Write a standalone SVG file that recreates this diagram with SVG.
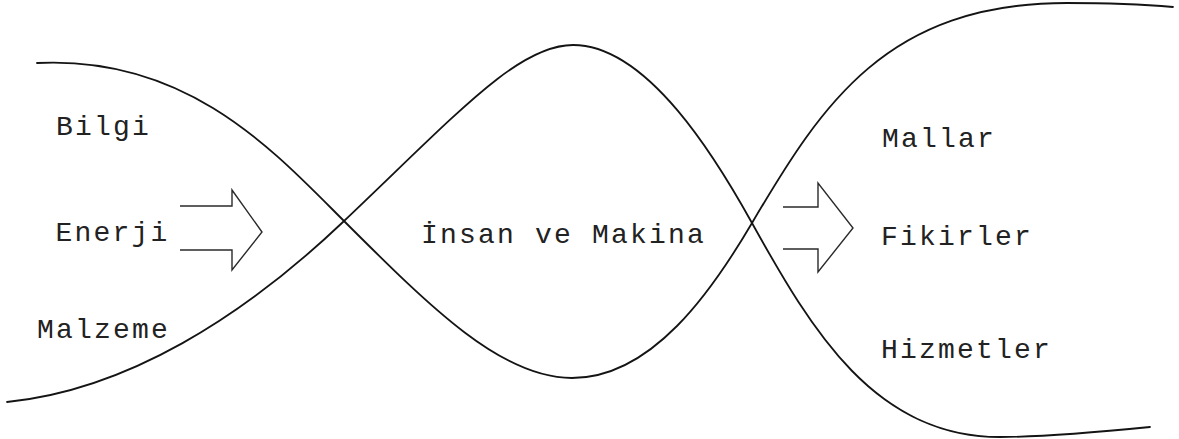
<svg xmlns="http://www.w3.org/2000/svg" width="1179" height="439" viewBox="0 0 1179 439">
<style>
.bg{fill:#ffffff}
.curve{fill:none;stroke:#141414;stroke-width:1.8;stroke-linecap:round;stroke-linejoin:round}
.arrow{fill:none;stroke:#2a2a2a;stroke-width:1.4;stroke-linejoin:miter}
.lbl{font-family:"Liberation Mono","Courier New",monospace;font-size:28px;letter-spacing:2.2px;fill:#222222}
</style>
<rect class="bg" x="0" y="0" width="1179" height="439"/>
<g id="curves">
<path id="curveA" class="curve" d="M37,63 C187,55.5 273,150 343,220 C433,310 502,378 572,378 C652,378 712,291 752,223 C822,104 887,3 1067,3 C1117,3 1150,5 1173,7"/>
<path id="curveB" class="curve" d="M7,402 C127,390 243,317 343,222 C458,113 518,45 573,45 C648,45 717,160 752,223 C812,331 875,437 1000,437 C1050,437 1110,431 1150,427"/>
</g>
<g id="connectors">
<path id="arrow-in" class="arrow" d="M180,206 L232,206 L232,190 L262,232 L232,270 L232,250 L180,250"/>
<path id="arrow-out" class="arrow" d="M783,207 L818,207 L818,183 L853,228 L818,272 L818,249 L783,249"/>
</g>
<g id="node-bilgi"><text class="lbl" x="56" y="135">Bilgi</text></g>
<g id="node-enerji"><text class="lbl" x="55.5" y="241">Enerji</text></g>
<g id="node-malzeme"><text class="lbl" x="37" y="338">Malzeme</text></g>
<g id="node-insan"><text class="lbl" x="421" y="243">İnsan ve Makina</text></g>
<g id="node-mallar"><text class="lbl" x="882" y="147">Mallar</text></g>
<g id="node-fikirler"><text class="lbl" x="881" y="245">Fikirler</text></g>
<g id="node-hizmetler"><text class="lbl" x="881" y="358">Hizmetler</text></g>
</svg>
